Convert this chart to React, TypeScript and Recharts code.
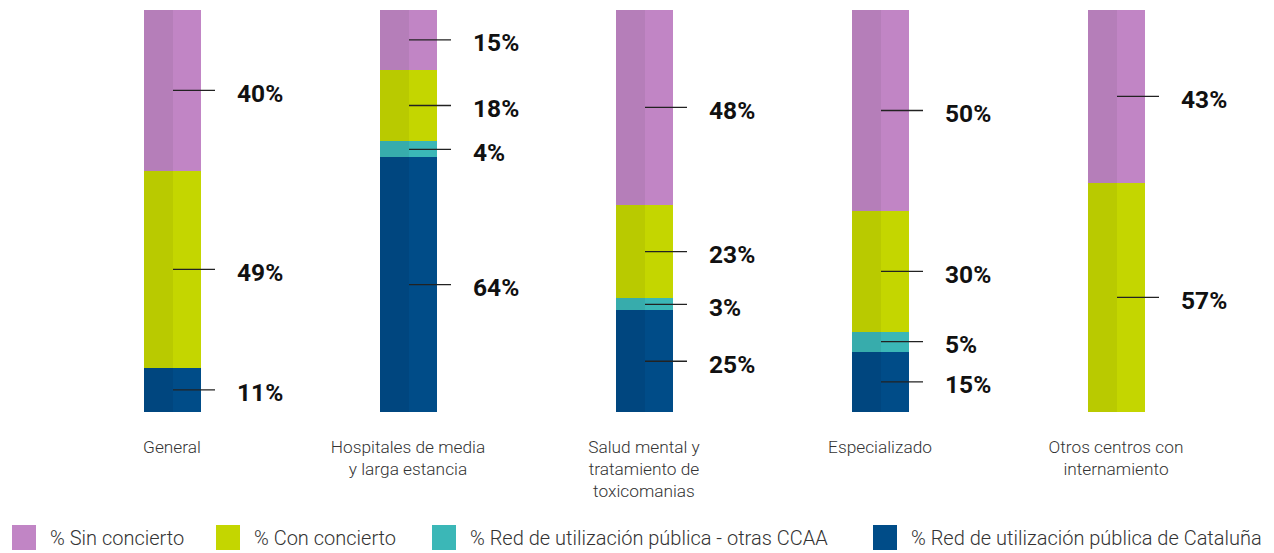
import React from "react";
import { BarChart, Bar, XAxis, YAxis } from "recharts";

const categories = [
  "General",
  "Hospitales de media|y larga estancia",
  "Salud mental y|tratamiento de|toxicomanias",
  "Especializado",
  "Otros centros con|internamiento",
];
const sinConcierto = [40, 15, 48, 50, 43];
const conConcierto = [49, 18, 23, 30, 57];
const otrasCCAA = [0, 4, 3, 5, 0];
const cataluna = [11, 64, 25, 15, 0];

const seriesNames = [
  "% Sin concierto",
  "% Con concierto",
  "% Red de utilización pública - otras CCAA",
  "% Red de utilización pública de Cataluña",
];

const series = [
  { key: "cat", name: seriesNames[3], values: cataluna, light: "#004C88", dark: "#00467F" },
  { key: "otras", name: seriesNames[2], values: otrasCCAA, light: "#3BB7B7", dark: "#37ACAC" },
  { key: "con", name: seriesNames[1], values: conConcierto, light: "#C4D600", dark: "#B9CA00" },
  { key: "sin", name: seriesNames[0], values: sinConcierto, light: "#C185C5", dark: "#B57EB9" },
];

const legendOrder = [3, 2, 1, 0];

const data = categories.map((c, i) => {
  const row: any = { name: c };
  series.forEach((s) => (row[s.key] = s.values[i]));
  return row;
});

const makeShape = (light: string, dark: string) => (props: any) => {
  const { x, y, width, height } = props;
  if (!height || height <= 0) return <g />;
  const half = Math.round(width / 2);
  return (
    <g shapeRendering="crispEdges">
      <rect x={x} y={y} width={width} height={height} fill={light} />
      <rect x={x} y={y} width={half} height={height} fill={dark} />
    </g>
  );
};

const makeLabel = (values: number[]) => (props: any) => {
  const { x, y, width, height, index } = props;
  const v = values[index];
  if (!v) return <g />;
  const cy = y + height / 2;
  return (
    <g>
      <line x1={x + Math.round(width / 2)} x2={x + width + 14} y1={cy} y2={cy} stroke="#222" strokeWidth={1.3} />
      <text
        x={x + width + 36}
        y={cy + 3}
        dominantBaseline="central"
        fontFamily="Roboto"
        fontWeight={700}
        fontSize={24.5}
        fill="#111"
      >
        {v}%
      </text>
    </g>
  );
};

const Tick = (props: any) => {
  const { x, y, payload } = props;
  const lines = String(payload.value).split("|");
  return (
    <g>
      {lines.map((l, i) => (
        <text
          key={i}
          x={x}
          y={y + 27 + i * 22}
          textAnchor="middle"
          dominantBaseline="central"
          fontFamily="Roboto"
          fontWeight={300}
          fontSize={17.3}
          fill="#333"
        >
          {l}
        </text>
      ))}
    </g>
  );
};

const legendX = [12, 216, 432, 873];

export default function App() {
  return (
    <div style={{ position: "absolute", left: 0, top: 0, width: 1274, height: 553, background: "#fff" }}>
      <BarChart
        width={1274}
        height={553}
        data={data}
        stackOffset="expand"
        margin={{ top: 10, right: 40, left: 54, bottom: 41 }}
      >
        <XAxis dataKey="name" axisLine={false} tickLine={false} interval={0} height={100} tick={<Tick />} />
        <YAxis hide domain={[0, 1]} />
        {series.map((s) => (
          <Bar
            key={s.key}
            dataKey={s.key}
            stackId="a"
            barSize={57}
            fill={s.light}
            isAnimationActive={false}
            shape={makeShape(s.light, s.dark)}
            label={makeLabel(s.values)}
          />
        ))}
      </BarChart>
      {legendOrder.map((si, i) => {
        const s = series[si];
        return (
          <div
            key={s.key}
            style={{ position: "absolute", left: legendX[i], top: 525, display: "flex", alignItems: "center" }}
          >
            <div style={{ width: 24, height: 25, background: s.light }} />
            <span
              style={{
                marginLeft: 14,
                fontFamily: "Roboto",
                fontWeight: 300,
                fontSize: 20,
                color: "#333",
                whiteSpace: "nowrap",
              }}
            >
              {s.name}
            </span>
          </div>
        );
      })}
    </div>
  );
}
